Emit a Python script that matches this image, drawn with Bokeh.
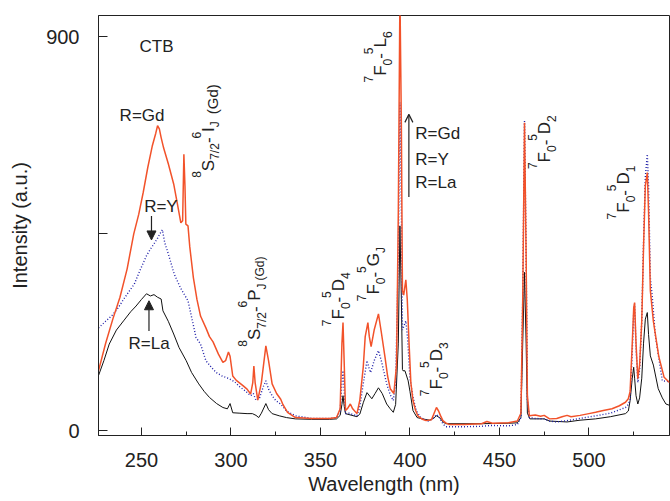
import math
from bokeh.plotting import figure
from bokeh.models import Range1d, FixedTicker, Label, Arrow, NormalHead, OpenHead
from bokeh.embed import file_html
from bokeh.resources import INLINE

# ---------------- data ----------------
gd_wl = [226, 230, 234, 238, 242, 245.7, 248.5, 251, 253.5, 256, 258, 259, 260, 261, 262.4, 265, 268, 270, 272,
         273, 273.7, 274.3, 274.8, 276, 277, 279, 281, 283, 286, 288, 290, 293, 295.5, 297, 298.6, 299.5, 301, 303,
         306.7, 309, 311, 312.2, 312.8, 313.5, 315, 317, 319.5, 321, 323, 325.5, 327.8, 329, 331.6, 336, 345, 355,
         359, 361, 362, 362.6, 363.3, 364, 365, 366.7, 368, 370.4, 372, 373.9, 375, 376.5, 377.3, 378.3, 380, 382.4,
         384, 386.1, 387.5, 389, 391, 392.5, 393.5, 394.4, 395.2, 395.8, 396.5, 397.7, 398.5, 399.5, 400.5, 401.7,
         403, 404.4, 407, 409, 412, 413.5, 414.8, 416, 417, 418.4, 420, 422, 430, 440, 443, 446, 455, 460, 462, 463,
         464.0, 464.9, 465.6, 466.7, 470, 473, 475, 478, 482, 485, 487.8, 490, 495, 500, 503.7, 508, 512.9, 517,
         520.4, 522, 523, 524.2, 525, 525.5, 526.3, 527.3, 528.3, 529.5, 530.5, 531.5, 532.6, 533.3, 534.3, 536,
         539, 542, 545]
gd_int = [137, 200, 255, 305, 370, 450, 495, 545, 601, 650, 680, 697, 690, 670, 646, 610, 564, 520, 475,
          480, 632, 560, 472, 468, 420, 350, 300, 262, 235, 215, 203, 175, 156, 160, 180, 170, 125, 115,
          103, 95, 84, 110, 148, 110, 70, 110, 194, 160, 107, 85, 72, 60, 42, 30, 28, 28,
          30, 50, 200, 247, 150, 46, 50, 61, 50, 39, 70, 145, 215, 247, 215, 192, 230, 267,
          225, 167, 125, 96, 85, 150, 500, 1000, 700, 320, 310, 345, 300, 200, 110, 69,
          48, 34, 26, 23, 25, 40, 53, 45, 35, 23, 18, 14, 14, 16, 21, 17, 18, 22, 40, 300,
          704, 400, 80, 34, 36, 33, 35, 27, 28, 32, 35, 32, 35, 39, 42, 46, 50, 57,
          65, 73, 90, 200, 280, 293, 200, 119, 150, 250, 420, 560, 590, 500, 320, 250,
          170, 122, 110]

y_wl = [226, 230, 234, 237, 240, 243, 246, 249, 252.8, 255, 257, 259, 261, 261.7, 263, 265, 268.3, 272, 276,
        280.5, 283, 286, 289, 291.7, 295, 299, 302, 305, 308, 311, 312.5, 314, 316, 318, 319.5, 321, 323, 325,
        328, 331, 336, 345, 355, 359, 361, 362, 362.6, 363.3, 364, 366, 368, 370.4, 372, 374, 376, 377, 378,
        380, 382.4, 384, 387, 389, 390.7, 392, 393.5, 394.4, 395.2, 395.8, 396.7, 397.7, 398.7, 400, 401.5,
        403.5, 406, 410, 413, 414.8, 416.5, 418.5, 420, 430, 440, 445, 455, 460, 462, 463, 464.0, 464.9, 465.6,
        466.7, 470, 475, 478, 482, 487.8, 495, 503.7, 512, 520.4, 522, 523, 524.2, 525, 525.5, 526.3, 527.3,
        528.3, 529.5, 530.5, 531.5, 532.6, 533.3, 534.3, 535.4, 537, 541, 545]
y_int = [235, 250, 265, 281, 300, 318, 335, 365, 400, 415, 427, 440, 455, 459, 430, 404, 358, 325, 297,
         213, 198, 160, 145, 133, 125, 119, 112, 100, 91, 80, 85, 69, 75, 100, 114, 95, 80, 69,
         60, 45, 34, 28, 28, 30, 45, 110, 137, 90, 39, 40, 37, 34, 55, 110, 160, 145, 133,
         160, 183, 160, 107, 82, 69, 110, 400, 750, 500, 230, 240, 251, 210, 121, 80,
         46, 30, 22, 28, 37, 30, 15, 9, 9, 10, 12, 11, 14, 30, 300, 708, 400, 70,
         30, 28, 27, 22, 20, 23, 28, 34, 40, 53, 60, 71, 180, 270, 290, 190,
         110, 140, 250, 430, 580, 632, 560, 350, 305, 220, 114, 112]

la_wl = [226, 229, 232, 236, 240, 244, 247, 250, 252.8, 255, 257, 259, 261, 262, 265, 268, 271, 275, 278, 282,
         285, 288, 292, 295.5, 298, 299.5, 301, 305, 309, 312, 314, 315.5, 317, 319.5, 321, 323, 327, 331, 336,
         345, 355, 359, 361, 362, 362.6, 363.3, 364, 367.6, 370.4, 372, 374, 376, 378.7, 380.5, 382.4, 384.5,
         387, 389, 390.7, 392, 393.5, 394.4, 395.2, 395.8, 396.1, 397.2, 399, 400, 401.7, 404, 407, 411, 413,
         414.8, 416.5, 418.5, 420, 440, 455, 460, 462, 463, 464.0, 464.9, 465.6, 467, 475, 478, 487.8, 495,
         503.7, 512, 520.4, 522, 523, 524.2, 525, 525.5, 526.3, 527.3, 528.3, 529.5, 530.5, 531.5, 532.6,
         533.3, 534.3, 536, 538.7, 541, 543, 545]
la_int = [126, 160, 198, 230, 251, 272, 285, 300, 313, 308, 311, 305, 301, 274, 250, 221, 190, 160, 133, 107,
          90, 76, 62, 53, 50, 62, 41, 40, 39, 39, 35, 30, 40, 62, 48, 39, 34, 30, 27,
          26, 26, 27, 35, 60, 80, 55, 39, 35, 32, 38, 65, 87, 73, 85, 98, 85,
          61, 50, 42, 60, 200, 468, 300, 140, 137, 137, 114, 90, 46, 30, 27, 24, 28,
          34, 30, 20, 16, 16, 17, 18, 30, 200, 362, 200, 40, 27, 27, 22, 20, 24,
          27, 32, 39, 45, 69, 120, 145, 120, 80, 61, 75, 120, 200, 255,
          270, 220, 171, 150, 96, 75, 61, 58]

x_ticks = [250, 300, 350, 400, 450, 500]
x_minor = [275, 325, 375, 425, 475, 525]
y_ticks = [0, 900]
y_minor = [450]
x_title = "Wavelength (nm)"
y_title = "Intensity (a.u.)"

FONT = "Liberation Sans"
TXT = "#222222"
X0, X1, Y0, Y1 = 226, 545, -11, 949

p = figure(width=670, height=501, output_backend="svg", toolbar_location=None,
           x_range=Range1d(X0, X1), y_range=Range1d(Y0, Y1),
           min_border_left=98, min_border_right=1, min_border_top=15, min_border_bottom=66)
p.background_fill_color = "white"
p.border_fill_color = "white"
p.outline_line_color = "#222222"
p.outline_line_width = 1
p.xgrid.visible = False
p.ygrid.visible = False

p.line(la_wl, la_int, line_color="#111111", line_width=1.0)
p.line(y_wl, y_int, line_color="#1f1fa8", line_width=1.4, line_dash="1 2")
p.line(gd_wl, gd_int, line_color="#f2522a", line_width=1.5)

for ax in (p.xaxis[0], p.yaxis[0]):
    ax.axis_line_color = "#222222"
    ax.major_tick_line_color = "#222222"
    ax.minor_tick_line_color = "#222222"
    ax.major_tick_out = 0
    ax.minor_tick_out = 0
    ax.major_label_text_font = FONT
    ax.major_label_text_font_size = "20px"
    ax.major_label_text_color = TXT
    ax.axis_label_text_font = FONT
    ax.axis_label_text_font_size = "20px"
    ax.axis_label_text_font_style = "normal"
    ax.axis_label_text_color = TXT

p.xaxis.ticker = FixedTicker(ticks=x_ticks, minor_ticks=x_minor)
p.xaxis.major_tick_in = 8
p.xaxis.minor_tick_in = 4
p.xaxis.major_label_standoff = 17
p.xaxis.axis_label = x_title
p.xaxis.axis_label_standoff = 3

p.yaxis.ticker = FixedTicker(ticks=y_ticks, minor_ticks=y_minor)
p.yaxis.major_tick_in = 9
p.yaxis.minor_tick_in = 9
p.yaxis.major_label_standoff = 19
p.yaxis.axis_label = y_title
p.yaxis.axis_label_standoff = 12

# correction of the renderer's text anchor (in px)
BASE_SHIFT = 7


def text(x, y, s, size=17):
    p.add_layout(Label(x=x, y=y, y_offset=BASE_SHIFT, text=s, text_font=FONT, text_font_size=f"{size}px",
                       text_color=TXT, text_baseline="alphabetic", text_align="left"))


text(248.9, 862, "CTB")
text(237.8, 704, "R=Gd")
text(251.5, 496, "R=Y")
text(242.8, 183, "R=La")
text(403, 664, "R=Gd")
text(403, 605, "R=Y")
text(403, 551, "R=La")

p.add_layout(Arrow(x_start=255.6, y_start=491, x_end=255.6, y_end=436, line_color=TXT, line_width=1.2,
                   end=NormalHead(size=9, fill_color=TXT, line_color=TXT)))
p.add_layout(Arrow(x_start=254.2, y_start=228, x_end=254.2, y_end=297, line_color=TXT, line_width=1.2,
                   end=NormalHead(size=9, fill_color=TXT, line_color=TXT)))
p.add_layout(Arrow(x_start=399.4, y_start=534, x_end=399.4, y_end=723, line_color=TXT, line_width=1.2,
                   end=OpenHead(size=8, line_color=TXT, line_width=1.2)))

CW = {c: 0.556 for c in "0123456789"}
CW.update({'F': 0.611, 'D': 0.722, 'G': 0.778, 'L': 0.556, 'S': 0.667, 'P': 0.667, 'I': 0.278, 'J': 0.5,
           '-': 0.333, '/': 0.278, '(': 0.333, ')': 0.333, 'd': 0.556})


def rot_label(ax, ay, segs):
    adv = 0.0
    for seg in segs:
        txt, lvl = seg[0], seg[1]
        size = 17 if lvl == 0 else 12
        dx = {0: 0, 1: -12, -1: 7}.get(lvl, 0)
        extra = seg[2] if len(seg) > 2 else {}
        size = extra.get("size", size)
        dx = extra.get("dx", dx)
        adv += extra.get("gap", 0)
        p.add_layout(Label(x=ax, y=ay, x_offset=dx - 6, y_offset=adv, text=txt, angle=math.pi / 2,
                           text_font=FONT, text_font_size=f"{size}px", text_color=TXT,
                           text_baseline="alphabetic", text_align="left"))
        adv += extra.get("adv", sum(CW[c] for c in txt) * size)


HY = ("-", 0, {"adv": 4.5})
rot_label(290.6, 578, [("8", 1), ("S", 0), ("7/2", -1), HY, ("6", 1), ("I", 0), ("J", -1),
                       ("(Gd)", 2, {"size": 15, "dx": 4, "gap": 7})])
rot_label(316.7, 192, [("8", 1), ("S", 0), ("7/2", -1), HY, ("6", 1), ("P", 0), ("J", -1),
                       ("(Gd)", 2, {"size": 12, "dx": 5, "gap": 3})])
rot_label(363.3, 239, [("7", 1), ("F", 0), ("0", -1), HY, ("5", 1), ("D", 0), ("4", -1)])
rot_label(383.0, 296, [("7", 1), ("F", 0), ("0", -1), HY, ("5", 1), ("G", 0), ("J", -1)])
rot_label(386.8, 796, [("7", 1), ("F", 0), ("0", -1), HY, ("5", 1), ("L", 0), ("6", -1)])
rot_label(418.0, 79, [("7", 1), ("F", 0), ("0", -1), HY, ("5", 1), ("D", 0), ("3", -1)])
rot_label(478.6, 598, [("7", 1), ("F", 0), ("0", -1), HY, ("5", 1), ("D", 0), ("2", -1)])
rot_label(522.8, 483, [("7", 1), ("F", 0), ("0", -1), HY, ("5", 1), ("D", 0), ("1", -1)])

open("out.html", "w").write(file_html(p, INLINE))
